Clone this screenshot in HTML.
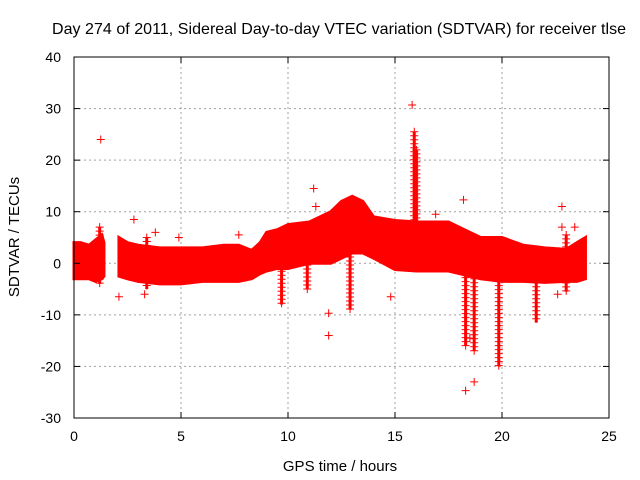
<!DOCTYPE html>
<html><head><meta charset="utf-8"><style>
html,body{margin:0;padding:0;background:#fff;}
svg{display:block;font-family:"Liberation Sans",sans-serif;}
</style></head><body>
<svg id="chart" width="640" height="480" xmlns="http://www.w3.org/2000/svg">
<text x="339" y="34" text-anchor="middle" font-size="16" textLength="574" fill="#000">Day 274 of 2011, Sidereal Day-to-day VTEC variation (SDTVAR) for receiver tlse</text>
<text x="340" y="471" text-anchor="middle" font-size="15" fill="#000">GPS time / hours</text>
<text transform="translate(19,237) rotate(-90)" text-anchor="middle" font-size="15" fill="#000">SDTVAR / TECUs</text>
<g id="grid"></g>
<g id="marks"></g>
<rect x="74" y="57" width="535" height="361" fill="none" stroke="#000" stroke-width="1"/>
<g id="ticks"></g>
</svg>
<script>
const xTicks=[0,5,10,15,20,25];
const yTicks=[-30,-20,-10,0,10,20,30,40];
// band segments: times, upper, lower envelope
const seg1T=[0,0.3,0.7,1.0,1.3,1.4];
const seg1U=[4,4,3.5,4.5,5.5,4];
const seg1L=[-3,-3,-3,-3.5,-3,-2.5];
const seg2T=[2.1,2.5,3,4,5,6,7,7.7,8.3,8.7,9,9.5,10,11,12,12.5,13,13.5,14,15,16,17,17.5,18,19,20,21,22,23,23.5,23.9];
const seg2U=[5,4,3.5,3,3,3,3.5,3.5,2.5,4,6,6.5,7.5,8,10,12,13,12,9,8.3,8,8,8,7,5,5,3.5,3,2.7,4,5];
const seg2L=[-2.5,-3,-3.5,-4,-4,-3.5,-3.5,-3.5,-3,-2,-1.5,-1,-1,0,0,1,2,2,1,-1.2,-1.5,-1.5,-1.5,-2,-3,-3.5,-3.5,-3.7,-3.5,-3.5,-3];
// spikes: time, min, max
const spikeT=[1.2,9.7,12.9,15.9,16.0,18.3,18.7,19.85,21.6,23.0,3.4,10.9];
const spikeMin=[-4,-8,-9,5,5,-16,-17,-20,-11.5,-5.5,-5,-5];
const spikeMax=[7,0,2,25.5,22,-2,-3,-2,-3,5.5,5,2];
// outlier points
const outX=[1.25,15.8,18.2,18.3,18.7,11.2,11.9,11.9,22.8,22.8,2.1,3.3,16.9,14.8,7.7,3.8,2.8,4.9,11.3,18.5,22.6,23.4];
const outY=[24,30.7,12.3,-24.7,-23,14.5,-9.7,-14,11,7,-6.5,-6,9.5,-6.5,5.5,6,8.5,5,11,-14.5,-6,7];
const NS='http://www.w3.org/2000/svg';
const X=t=>74+t*(535/25);
const Y=v=>418-(v+30)*(361/70);
function mk(tag,attrs,parent){const e=document.createElementNS(NS,tag);for(const k in attrs)e.setAttribute(k,attrs[k]);parent.appendChild(e);return e;}
const grid=document.getElementById('grid'),ticks=document.getElementById('ticks'),marks=document.getElementById('marks');
xTicks.forEach(t=>{
 if(t>0&&t<25){const g=mk('line',{x1:X(t),x2:X(t),y1:57,y2:418,stroke:'#a0a0a0','stroke-dasharray':'2,3'},grid);
 
 }
 const l=mk('text',{x:X(t),y:441,'text-anchor':'middle','font-size':14},ticks);l.textContent=t;
 
 
 mk('line',{x1:X(t),x2:X(t),y1:418,y2:412,stroke:'#000'},ticks);
 mk('line',{x1:X(t),x2:X(t),y1:57,y2:63,stroke:'#000'},ticks);
});
yTicks.forEach(v=>{
 if(v>-30&&v<40){const g=mk('line',{x1:74,x2:609,y1:Y(v),y2:Y(v),stroke:'#a0a0a0','stroke-dasharray':'2,3'},grid);
 
 }
 const l=mk('text',{x:61,y:Y(v)+5,'text-anchor':'end','font-size':14},ticks);l.textContent=v;
 
 
 mk('line',{x1:74,x2:80,y1:Y(v),y2:Y(v),stroke:'#000'},ticks);
 mk('line',{x1:603,x2:609,y1:Y(v),y2:Y(v),stroke:'#000'},ticks);
});
function band(T,U,L,name){
 let pts=T.map((t,i)=>X(t)+','+Y(U[i]));
 for(let i=T.length-1;i>=0;i--)pts.push(X(T[i])+','+Y(L[i]));
 const p=mk('polygon',{points:pts.join(' '),fill:'#ff0000',stroke:'#ff0000','stroke-width':3},marks);
 
 
}
band(seg1T,seg1U,seg1L,'band-segment-1');
band(seg2T,seg2U,seg2L,'band-segment-2');
function plus(x,y,parent){mk('path',{d:`M${x-4},${y}h8M${x},${y-4}v8`,stroke:'#ff0000','stroke-width':1},parent);}
spikeT.forEach((t,i)=>{
 const g=mk('g',{},marks);
 
 
 const y1=Y(spikeMax[i]),y2=Y(spikeMin[i]);
 mk('line',{x1:X(t),x2:X(t),y1:y1,y2:y2,stroke:'#ff0000','stroke-width':3},g);
 for(let y=y1;y<=y2;y+=4)plus(X(t),y,g);
});
outX.forEach((t,i)=>{
 const g=mk('g',{},marks);
 
 
 plus(X(t),Y(outY[i]),g);
});
</script>
</body></html>
